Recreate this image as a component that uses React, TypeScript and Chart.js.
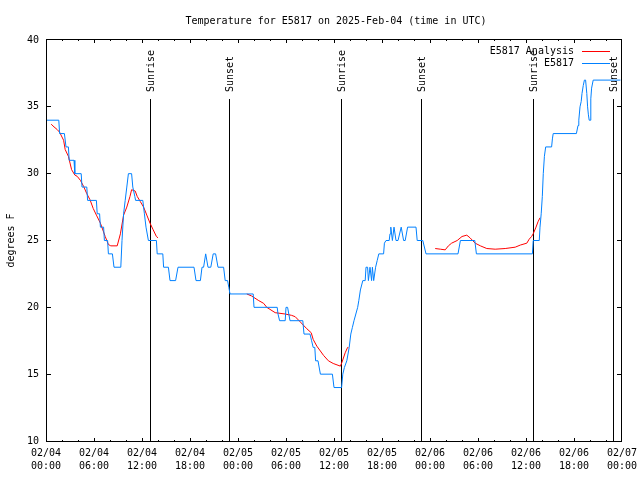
import React, { useEffect, useRef } from "react";
import { Chart, registerables } from "chart.js";

Chart.register(...registerables);

const TITLE = "Temperature for E5817 on 2025-Feb-04 (time in UTC)";
const Y_TITLE = "degrees F";
const OBS_LABEL = "E5817";
const ANALYSIS_LABEL = "E5817 Analysis";
const dayLabels = ["02/04", "02/05", "02/06", "02/07"];
const sunriseHours = [13.05, 36.96, 60.92];
const sunsetHours = [22.92, 46.96, 70.92];

// hours since 02/04 00:00 UTC
const obsHours = [
  0, 1.6, 1.7, 2.3, 2.5, 2.8, 2.9, 3.5, 3.6, 4.4, 4.5, 5.1, 5.2, 6.3, 6.4, 6.7, 6.8, 7.2, 7.3, 7.7,
  7.8, 8.3, 8.5, 9.35, 9.5, 9.7, 9.9, 10.1, 10.3, 10.7, 10.85, 11.1, 11.2, 12.1, 12.3, 12.5, 12.8, 13.8, 13.9, 14.6,
  14.7, 15.3, 15.5, 16.2, 16.5, 18.5, 18.75, 19.3, 19.5, 19.7, 19.96, 20.25, 20.6, 20.9, 21.2, 21.5, 22.2, 22.4, 22.7, 22.85,
  23.0, 25.9, 26.0, 28.9, 29.0, 29.2, 29.9, 30.0, 30.2, 30.35, 30.5, 32.1, 32.25, 33.0, 33.2, 33.4, 33.6, 33.7, 34.0, 34.3,
  35.8, 36.0, 36.95, 37.1, 37.3, 37.6, 37.9, 38.1, 38.3, 38.5, 38.96, 39.1, 39.3, 39.6, 39.9, 40.0, 40.2, 40.3, 40.5, 40.7,
  40.8, 40.96, 41.2, 41.4, 41.6, 42.2, 42.3, 42.5, 42.9, 43.0, 43.1, 43.3, 43.5, 43.75, 44.0, 44.4, 44.7, 44.9, 45.2, 46.25,
  46.4, 47.1, 47.5, 51.5, 51.8, 53.6, 53.8, 60.8, 60.9, 61.66, 61.75, 61.9, 62.04, 62.16, 62.3, 62.46, 63.2, 63.3, 63.4, 66.3,
  66.5, 66.6, 66.75, 66.9, 67.0, 67.16, 67.3, 67.45, 67.6, 67.7, 67.8, 67.9, 68.0, 68.1, 68.2, 68.4, 71.8,
];
const obsTemps = [
  34, 34, 33, 33, 32, 32, 31, 31, 30, 30, 29, 29, 28, 28, 27, 27, 26, 26, 25, 25,
  24, 24, 23, 23, 25, 27, 28, 29, 30, 30, 29, 28.3, 28, 28, 27, 26, 25, 25, 24, 24,
  23, 23, 22, 22, 23, 23, 22, 22, 23, 23, 24, 23, 23, 24, 24, 23, 23, 22, 22, 21.5,
  21, 21, 20, 20, 19.5, 19, 19, 20, 20, 19.5, 19, 19, 18, 18, 17.5, 17, 17, 16, 16, 15,
  15, 14, 14, 15, 15.5, 16, 17, 18, 18.5, 19, 20, 20.5, 21.3, 22, 22, 23, 23, 22, 23, 22,
  23, 22, 23, 23.5, 24, 24, 24.8, 25, 25, 25.5, 26, 25, 26, 25, 25, 26, 25, 25, 26, 26,
  25, 25, 24, 24, 25, 25, 24, 24, 25, 25, 26, 27, 28.3, 30, 31.3, 32, 32, 32.6, 33, 33,
  33.6, 34, 35, 35.4, 36, 36.6, 37, 37, 36, 35, 34.4, 34, 34, 35.6, 36.4, 37, 37,
];

// null entries separate the analysis segments
const analysisHours = [
  0.65, 1.0, 1.4, 1.7, 2.2, 2.4, 2.8, 3.2, 3.6, 3.9, 4.3, 4.7, 5.1, 5.5, 5.9, 6.3, 6.8, 7.4, 7.8, 8.1,
  8.9, 9.3, 9.7, 10.1, 10.5, 10.7, 11.15, 11.4, 11.8, 12.2, 12.6, 13.0, 13.4, 13.8, 14.0,
  19.0,
  25.1, 25.7, 26.6, 27.2, 27.6, 28.65, 29.9, 30.7, 31.15, 31.8, 32.6, 33.15, 33.4, 33.85, 34.7, 35.3, 35.9, 36.8, 37.0, 37.4,
  37.7, 37.8,
  43.0,
  48.65, 49.3, 49.9, 50.3, 50.7, 51.4, 52.0, 52.6, 53.0, 53.65, 54.3, 55.1, 56.15, 57.4, 58.65, 59.3, 60.1, 60.4, 60.7, 60.9,
  61.25, 61.5, 61.75,
];
const analysisTemps = [
  33.7, 33.5, 33.3, 33.1, 32.5, 31.8, 31.3, 30.3, 29.9, 29.8, 29.5, 29.05, 28.5, 28.05, 27.4, 26.9, 26.3, 25.3, 24.7, 24.6,
  24.6, 25.5, 26.9, 27.5, 28.3, 28.8, 28.7, 28.3, 27.9, 27.5, 26.9, 26.3, 25.8, 25.3, 25.2,
  null,
  21.0, 20.85, 20.5, 20.3, 20.0, 19.6, 19.5, 19.4, 19.3, 18.9, 18.4, 18.1, 17.6, 17.1, 16.4, 16.0, 15.8, 15.6, 15.9, 16.6,
  17.0, 17.0,
  null,
  24.4, 24.35, 24.3, 24.6, 24.8, 25.0, 25.3, 25.4, 25.2, 24.8, 24.6, 24.4, 24.35, 24.4, 24.5, 24.66, 24.8, 25.1, 25.3, 25.5,
  26.0, 26.4, 26.7,
];

const FONT = '"DejaVu Sans Mono", "Liberation Mono", monospace';
const RED = "#ff0000";
const BLUE = "#0080ff";

const decor = {
  id: "decor",
  beforeDatasetsDraw(chart: any) {
    const { ctx, chartArea, scales } = chart;
    const { top, bottom } = chartArea;
    const x = scales.x;
    ctx.save();
    ctx.strokeStyle = "#000";
    ctx.fillStyle = "#000";
    ctx.lineWidth = 1;
    ctx.font = `10px ${FONT}`;
    const marks: [number, string][] = [
      ...sunriseHours.map((h) => [h, "Sunrise"] as [number, string]),
      ...sunsetHours.map((h) => [h, "Sunset"] as [number, string]),
    ];
    for (const [h, label] of marks) {
      const px = Math.floor(x.getPixelForValue(h)) + 0.5;
      ctx.beginPath();
      ctx.moveTo(px, top + 59);
      ctx.lineTo(px, bottom);
      ctx.stroke();
      ctx.save();
      ctx.translate(px + 1, top + 52);
      ctx.rotate(-Math.PI / 2);
      ctx.textAlign = "left";
      ctx.textBaseline = "middle";
      ctx.fillText(label, 0, 0);
      ctx.restore();
    }
    ctx.restore();
  },
  afterDraw(chart: any) {
    const { ctx, chartArea, scales } = chart;
    const { left, right, top, bottom } = chartArea;
    const x = scales.x;
    const y = scales.y;
    ctx.save();
    ctx.strokeStyle = "#000";
    ctx.fillStyle = "#000";
    ctx.lineWidth = 1;
    // frame
    ctx.beginPath();
    ctx.moveTo(left + 0.5, top - 1);
    ctx.lineTo(left + 0.5, bottom + 1);
    ctx.moveTo(right - 0.5, top - 1);
    ctx.lineTo(right - 0.5, bottom + 1);
    ctx.moveTo(left, top - 0.5);
    ctx.lineTo(right, top - 0.5);
    ctx.moveTo(left, bottom + 0.5);
    ctx.lineTo(right, bottom + 0.5);
    ctx.stroke();
    // x ticks (inward, top and bottom)
    ctx.beginPath();
    for (let h = 2; h < 72; h += 2) {
      const len = h % 6 === 0 ? 4 : 2;
      const px = Math.floor(x.getPixelForValue(h)) + 0.5;
      ctx.moveTo(px, bottom + 1);
      ctx.lineTo(px, bottom + 1 - len);
      ctx.moveTo(px, top - 1);
      ctx.lineTo(px, top - 1 + len);
    }
    // y ticks (inward, left and right)
    for (let v = 15; v < 40; v += 5) {
      const py = Math.floor(y.getPixelForValue(v)) + 0.5;
      ctx.moveTo(left, py);
      ctx.lineTo(left + 5, py);
      ctx.moveTo(right, py);
      ctx.lineTo(right - 5, py);
    }
    ctx.stroke();
    // title
    ctx.font = `10px ${FONT}`;
    ctx.textAlign = "center";
    ctx.textBaseline = "middle";
    ctx.fillText(TITLE, (left + right) / 2 + 2, 21);
    // y title
    ctx.save();
    ctx.translate(11, (top + bottom) / 2);
    ctx.rotate(-Math.PI / 2);
    ctx.fillText(Y_TITLE, 0, 0);
    ctx.restore();
    // legend
    const ds = chart.data.datasets;
    const order = [1, 0];
    order.forEach((idx, row) => {
      const d = ds[idx];
      const ly = top + 11 + row * 12;
      ctx.textAlign = "right";
      ctx.fillStyle = "#000";
      ctx.fillText(d.label, right - 48, ly + 0.5);
      ctx.strokeStyle = d.borderColor;
      ctx.beginPath();
      ctx.moveTo(right - 40, Math.floor(ly) + 0.5);
      ctx.lineTo(right - 12, Math.floor(ly) + 0.5);
      ctx.stroke();
    });
    ctx.restore();
  },
};

export default function App() {
  const ref = useRef<HTMLCanvasElement>(null);
  useEffect(() => {
    const obsData = obsHours.map((h, i) => ({ x: h, y: obsTemps[i] }));
    const analysisData = analysisHours.map((h, i) => ({ x: h, y: analysisTemps[i] }));
    const chart = new Chart(ref.current!, {
      type: "line",
      data: {
        datasets: [
          {
            label: OBS_LABEL,
            data: obsData,
            borderColor: BLUE,
            backgroundColor: BLUE,
            borderWidth: 1,
            pointRadius: 0,
            tension: 0,
            fill: false,
          },
          {
            label: ANALYSIS_LABEL,
            data: analysisData as any,
            borderColor: RED,
            backgroundColor: RED,
            borderWidth: 1,
            pointRadius: 0,
            tension: 0,
            fill: false,
            spanGaps: false,
          },
        ],
      },
      options: {
        responsive: false,
        animation: false,
        devicePixelRatio: 1,
        layout: { padding: { top: 40, right: 18, left: 0, bottom: 0 } },
        plugins: {
          legend: { display: false },
          title: { display: false },
          tooltip: { enabled: false },
        },
        scales: {
          x: {
            type: "linear",
            min: 0,
            max: 72,
            grid: { display: false, drawTicks: false },
            border: { display: false },
            ticks: {
              stepSize: 6,
              autoSkip: false,
              maxRotation: 0,
              minRotation: 0,
              padding: 6,
              color: "#000",
              font: { family: FONT, size: 10, lineHeight: 1.3 },
              callback: (v: any) => {
                const h = Number(v);
                const t = String(h % 24).padStart(2, "0") + ":00";
                return [dayLabels[Math.floor(h / 24)], t];
              },
            },
            afterFit: (s: any) => {
              s.height = 39;
              s.paddingLeft = 0;
              s.paddingRight = 0;
            },
          },
          y: {
            type: "linear",
            min: 10,
            max: 40,
            grid: { display: false, drawTicks: false },
            border: { display: false },
            ticks: {
              stepSize: 5,
              padding: 7,
              color: "#000",
              font: { family: FONT, size: 10 },
            },
            afterFit: (s: any) => {
              s.width = 46;
              s.paddingTop = 0;
              s.paddingBottom = 0;
            },
          },
        },
      },
      plugins: [decor],
    });
    return () => chart.destroy();
  }, []);
  return (
    <div style={{ position: "fixed", left: 0, top: 0, width: 640, height: 480, background: "#fff" }}>
      <canvas ref={ref} width={640} height={480} style={{ display: "block" }} />
    </div>
  );
}
